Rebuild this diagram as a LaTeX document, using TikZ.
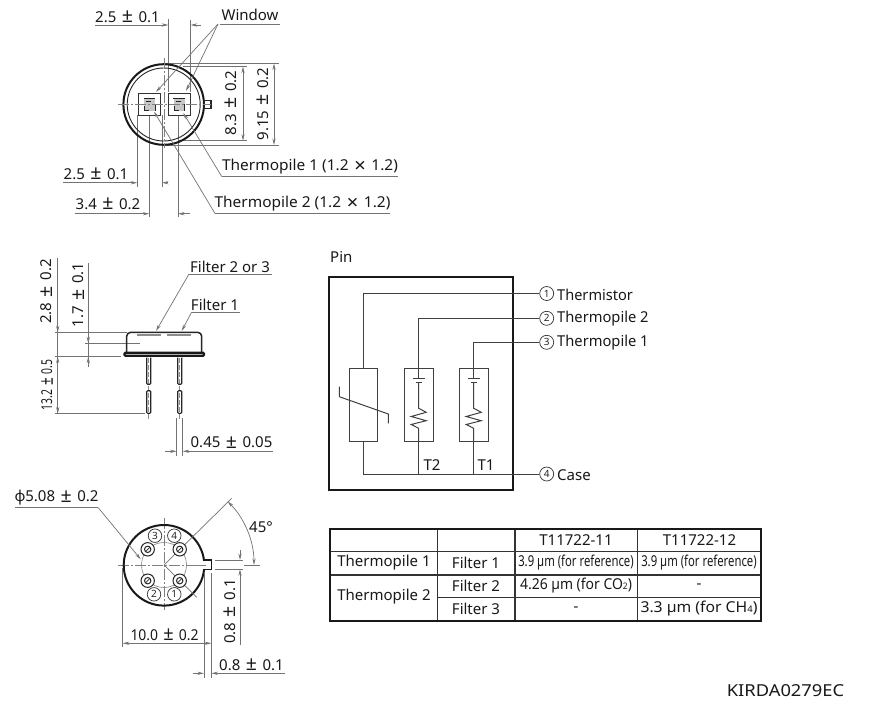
\documentclass[tikz,border=0pt]{standalone}
\usepackage{fontspec}
\usepackage{graphicx}
\usetikzlibrary{arrows.meta}
\setmainfont{Noto Sans}
\newcommand{\cond}[2][0.78]{\scalebox{#1}[1]{#2}}
\newcommand{\PM}{\hspace{1.6pt} \raisebox{-0.7pt}{\scalebox{1.3}{±}} \hspace{1.6pt}}
\newcommand{\TM}{\hspace{1.6pt} \raisebox{-1.2pt}{\scalebox{1.3}{×}} \hspace{1.6pt}}
\tikzset{
  x=1pt,y=-1pt,
  txt/.style={inner sep=0pt,font=\fontsize{15}{16}\selectfont,text=black!90},
  thin line/.style={line width=0.7pt,draw=black!55},
  wire/.style={line width=1pt,draw=black!75},
  medium/.style={line width=1.3pt,draw=black!85},
  tip/.style={-{Stealth[length=6.5pt,width=3.2pt]},thin line},
  tips/.style={{Stealth[length=6.5pt,width=3.2pt]}-{Stealth[length=6.5pt,width=3.2pt]},thin line},
  cl/.style={line width=0.7pt,draw=black!50,dash pattern=on 11pt off 2pt on 2pt off 2pt},
  num/.style={circle,draw=black!80,line width=0.7pt,minimum size=13.5pt,inner sep=0pt,font=\fontsize{10}{10}\selectfont,text=black!85,fill=white},
}
\begin{document}
\begin{tikzpicture}
\path[use as bounding box,fill=white] (0,0) rectangle (873,723);

% ---------- top view ----------
\draw[thin line] (168.3,19) -- (168.3,92);
\draw[thin line] (190.7,20) -- (190.7,92);
\draw[thin line] (137.3,115) -- (137.3,187);
\draw[thin line] (149.3,115) -- (149.3,217);
\draw[thin line] (162,115) -- (162,187);
\draw[thin line] (178,115) -- (178,217);
\draw[thin line] (165,63.5) -- (279,63.5);
\draw[thin line] (165,145) -- (279,145);
\draw[thin line] (183,66.7) -- (247,66.7);
\draw[thin line] (178,140.7) -- (247,140.7);

\draw[line width=2pt,draw=black!90] (163.7,104.5) circle[radius=40.3pt];
\draw[line width=0.9pt,draw=black!85] (163.7,104.5) circle[radius=36.5pt];
\draw[medium] (204.5,100.7) rectangle (211,108.5);
\fill[black!22] (144.3,99.3) rectangle (155,110.7);
\fill[black!22] (174,99.3) rectangle (184.7,110.7);
\draw[line width=1pt,draw=black!80] (138.3,93.3) rectangle (160.7,115.7);
\draw[line width=1pt,draw=black!80] (168,93.3) rectangle (190,115.7);
\foreach \d in {0,29.7}{
  \draw[line width=0.8pt,draw=black!85] (143.5+\d,98.3) -- (155+\d,98.3);
  \draw[line width=0.8pt,draw=black!85] (146+\d,101.5) -- (151+\d,101.5);
  \draw[line width=0.8pt,draw=black!85] (144.3+\d,106) -- (144.3+\d,110.7) -- (149+\d,110.7);
  \draw[line width=0.8pt,draw=black!85] (155+\d,104) -- (155+\d,111);
}
\draw[cl] (164,58) -- (164,148);
\draw[cl] (118,104.5) -- (211,104.5);

% dims top
\node[txt] (d1) at (127.5,17) {2.5\PM 0.1};
\draw[thin line] (95,25) -- (160,25);
\coordinate (d1a) at (160,25); \coordinate (d1b) at (168.3,25);
\coordinate (d1c) at (201,25); \coordinate (d1d) at (190.7,25);
\draw[tip] (d1a) -- (d1b);
\draw[tip] (d1c) -- (d1d);

\node[txt] (win) at (250,15) {Window};
\draw[thin line] (220,24) -- (280,24);
\coordinate (w0) at (218,24);
\draw[tip] (w0) -- (156,92);
\draw[tip] (w0) -- (186,91);

\node[txt,rotate=90] (d83) at (231,103) {8.3\PM 0.2};
\draw[tips] (243,66.7) -- (243,140.7);
\node[txt,rotate=90] (d915) at (263,104) {9.15\PM 0.2};
\draw[tips] (274,63.5) -- (274,145);

\node[txt] (d25) at (96,174) {2.5\PM 0.1};
\draw[thin line] (63,182.7) -- (130,182.7);
\draw[tip] (130,182.7) -- (137.3,182.7);
\draw[tip] (168,182.7) -- (162,182.7);
\node[txt] (d34) at (108,204) {3.4\PM 0.2};
\draw[thin line] (75,213.7) -- (142,213.7);
\draw[tip] (142,213.7) -- (149.3,213.7);
\draw[tip] (190,213.7) -- (178,213.7);

\node[txt] (tp1) at (310,167) {\cond[1.03]{Thermopile 1 (1.2\TM 1.2)}};
\draw[thin line] (221.7,176.5) -- (398,176.5);
\draw[tip] (221.7,176.5) -- (183.3,113);
\node[txt] (tp2) at (302.5,204) {\cond[1.03]{Thermopile 2 (1.2\TM 1.2)}};
\draw[thin line] (215,213.5) -- (390,213.5);
\draw[tip] (215,213.5) -- (154,111.5);

% ---------- side view ----------
\draw[thin line] (57.7,258) -- (57.7,413.7);
\draw[thin line] (55,332.3) -- (127,332.3);
\draw[thin line] (55,356.7) -- (121,356.7);
\draw[thin line] (55,413.5) -- (145,413.5);
\draw[thin line] (85,343.3) -- (140,343.3);
\draw[thin line] (88.3,263) -- (88.3,367);
\draw[tip] (57.7,322) -- (57.7,332.3);
\draw[tip] (57.7,367) -- (57.7,356.7);
\draw[tip] (57.7,403) -- (57.7,413.5);
\draw[tip] (88.3,333) -- (88.3,343.3);
\draw[tip] (88.3,367) -- (88.3,356.7);
\node[txt,rotate=90] (d28) at (46.7,291.5) {2.8\PM 0.2};
\node[txt,rotate=90] (d17) at (78.3,295) {1.7\PM 0.1};
\node[txt,rotate=90] (d132) at (47,385) {\cond[0.69]{13.2\PM 0.5}};

\foreach \x in {146.7,177.7}{
  \draw[line width=0.5pt,draw=black!45,dash pattern=on 5pt off 2pt] (\x+2,358) -- (\x+2,420);
  \draw[line width=1.1pt,draw=black!85,rounded corners=1pt] (\x,357.5) -- (\x,384.3) -- (\x+4,384.3) -- (\x+4,357.5);
  \draw[line width=1.1pt,draw=black!85,rounded corners=1pt] (\x,390.7) rectangle (\x+4,413.3);
}
\draw[medium,line width=1.5pt,rounded corners=4pt] (126.7,352) -- (126.7,332.3) -- (201.7,332.3) -- (201.7,352);
\draw[line width=2.2pt,draw=black!90,rounded corners=1pt] (124.4,352.8) rectangle (204,355.8);
\fill[black!45] (137.3,333.5) rectangle (160.7,335.6);
\fill[black!45] (167.3,333.5) rectangle (190.7,335.6);
\node[txt] (f23) at (230,266.5) {Filter 2 or 3};
\draw[thin line] (189,274) -- (272,274);
\draw[tip] (189,274) -- (156,331);
\node[txt] (f1) at (215,305) {Filter 1};
\draw[thin line] (191.7,312) -- (240,312);
\draw[tip] (191.7,312) -- (181.7,331);

\draw[thin line] (176.7,418) -- (176.7,456);
\draw[thin line] (182.7,418) -- (182.7,456);
\draw[tip] (165,451.3) -- (176.7,451.3);
\draw[tip] (190,451.3) -- (182.7,451.3);
\draw[thin line] (190,451.3) -- (273,451.3);
\node[txt] (d045) at (231.5,442.5) {0.45\PM 0.05};

% ---------- bottom view ----------
\draw[line width=0.6pt,draw=black!50] (164,565) circle[radius=22.5pt];
\draw[cl] (164,518) -- (164,610);
\draw[cl] (118,565) -- (204,565);
\draw[line width=2pt,draw=black!90] (164,565.3) circle[radius=40.3pt];
\fill[white] (202.5,561) rectangle (210.5,568.5);
\draw[line width=1.5pt,draw=black!90] (204,560) -- (211.3,560) -- (211.3,569.3) -- (204.5,569.3);
\draw[cl] (196,565) -- (206,565);
\draw[thin line] (164,565) -- (231.7,498.3);
\draw[thin line] (164,565) -- (196.7,597.3);
\foreach \x/\y in {147.7/549.3,179.7/549.3,147.7/580.7,179.7/580.7}{
  \draw[line width=1pt,draw=black!85,fill=white] (\x,\y) circle[radius=6.7pt];
  \draw[line width=1pt,draw=black!85] (\x,\y) circle[radius=3.2pt];
  \draw[line width=0.7pt,draw=black!85] (\x-2.2,\y+2.2) -- (\x+2.2,\y-2.2);
}
\node[num] (p3) at (155,535.7) {3};
\node[num] (p4) at (174.3,535.7) {4};
\node[num] (p2) at (154,594.3) {2};
\node[num] (p1) at (174.3,594.3) {1};

\node[txt] (phi) at (56.5,498) {ϕ5.08\PM 0.2};
\draw[thin line] (15,507.7) -- (98.3,507.7);
\draw[tip] (98.3,507.7) -- (140.7,559.3);

\draw[tips] (254,565) .. controls (254,541.1) and (244.5,518.3) .. (227.6,501.4);
\draw[thin line] (244,565) -- (260,565);
\node[txt] (a45) at (261,527.5) {45°};

\draw[thin line] (215,560) -- (243,560);
\draw[thin line] (215,569.3) -- (243,569.3);
\draw[tip] (240,550) -- (240,560);
\draw[tip] (240,580) -- (240,569.3);
\draw[thin line] (240,580) -- (240,645);
\node[txt,rotate=90] (d08v) at (230,611.5) {0.8\PM 0.1};

\draw[thin line] (122.7,568) -- (122.7,647);
\draw[thin line] (204,573) -- (204,678);
\draw[thin line] (211.3,573) -- (211.3,678);
\draw[tips] (122.7,643.3) -- (211.3,643.3);
\node[txt] (d10) at (164.5,635) {\cond[0.93]{10.0\PM 0.2}};
\draw[tip] (192.7,673.3) -- (204,673.3);
\draw[tip] (218,673.3) -- (211.3,673.3);
\draw[thin line] (218,673.3) -- (285,673.3);
\node[txt] (d08h) at (251.5,665) {0.8\PM 0.1};

% ---------- circuit ----------
\node[txt,anchor=west] (pin) at (330,257) {Pin};
\draw[line width=2.2pt,draw=black!90] (329.3,276.7) rectangle (512.7,490);
\node[draw=black!75,line width=1pt,minimum width=28.7pt,minimum height=73.4pt,inner sep=0pt] (th) at (363.4,405) {};
\node[draw=black!75,line width=1pt,minimum width=29.3pt,minimum height=73.4pt,inner sep=0pt] (b2) at (418.7,405) {};
\node[draw=black!75,line width=1pt,minimum width=29.3pt,minimum height=73.4pt,inner sep=0pt] (b1) at (473.7,405) {};
\node[num,minimum size=14pt] (c1) at (546.7,293.5) {1};
\node[num,minimum size=14pt] (c2) at (546.7,318.3) {2};
\node[num,minimum size=14pt] (c3) at (546.7,342.3) {3};
\node[num,minimum size=14pt] (c4) at (546.7,474) {4};
\node[txt,anchor=west] (l1) at (557,294.5) {\cond[0.97]{Thermistor}};
\node[txt,anchor=west] (l2) at (557,319) {\cond[0.98]{Thermopile 2}};
\node[txt,anchor=west] (l3) at (557,343) {\cond[0.98]{Thermopile 1}};
\node[txt,anchor=west] (l4) at (557,475) {Case};
\node[txt] (t2) at (432,465) {T2};
\node[txt] (t1) at (486,465) {T1};
\draw[wire] (c1) -- (th.north |- c1) -- (th.north);
\draw[wire] (c2) -- (b2.north |- c2) -- (b2.north);
\draw[wire] (c3) -- (b1.north |- c3) -- (b1.north);
\draw[wire] (c4) -- (th.south |- c4) -- (th.south);
\draw[wire] (b2.south) -- (b2.south |- c4);
\draw[wire] (b1.south) -- (b1.south |- c4);
\draw[wire] (339.3,386.7) -- (339.3,396.7) -- (388.3,414) -- (388.3,423.3);
\foreach \n/\x in {b2/418.7,b1/473.7}{
  \draw[wire] (\n.north) -- (\x,378.3);
  \draw[wire] (\x-6,378.3) -- (\x+6,378.3);
  \draw[wire] (\x-3,382.3) -- (\x+3,382.3);
  \draw[wire] (\x,382.3) -- (\x,408.3) -- (\x+7.5,412.3) -- (\x-7.5,416.5) -- (\x+7.5,420.7) -- (\x-7.5,424.5) -- (\x,428.3) -- (\n.south);
}

% ---------- table ----------
\draw[line width=1.2pt,draw=black!80]
  (330,551.7) -- (761,551.7)
  (330,575) -- (761,575)
  (437.7,597.7) -- (761,597.7)
  (437.7,529.3) -- (437.7,621)
  (515,529.3) -- (515,621)
  (637.7,529.3) -- (637.7,621);
\draw[line width=2pt,draw=black!90] (330,529.3) rectangle (761,621);
\node[txt] (h1) at (576,540.5) {T11722-11};
\node[txt] (h2) at (699.5,540.5) {T11722-12};
\node[txt] (r1) at (384,562.5) {Thermopile 1};
\node[txt] (r2) at (384,597) {Thermopile 2};
\node[txt] (f1t) at (476,563) {Filter 1};
\node[txt] (f2t) at (476,586) {Filter 2};
\node[txt] (f3t) at (476,609) {Filter 3};
\node[txt] (c11) at (576,563) {\cond[0.755]{3.9 µm (for reference)}};
\node[txt] (c12) at (699,563) {\cond[0.755]{3.9 µm (for reference)}};
\node[txt] (c21) at (576,586) {\cond[0.93]{4.26 µm (for CO{\fontsize{9}{9}\selectfont 2})}};
\node[txt] (c22) at (699,586) {-};
\node[txt] (c31) at (576,609) {-};
\node[txt] (c32) at (699,609) {\cond[1.05]{3.3 µm (for CH{\fontsize{9}{9}\selectfont 4})}};

\node[txt,font=\fontsize{16.5}{18}\selectfont] (code) at (785.5,691) {\cond[1.11]{KIRDA0279EC}};
\end{tikzpicture}
\end{document}
